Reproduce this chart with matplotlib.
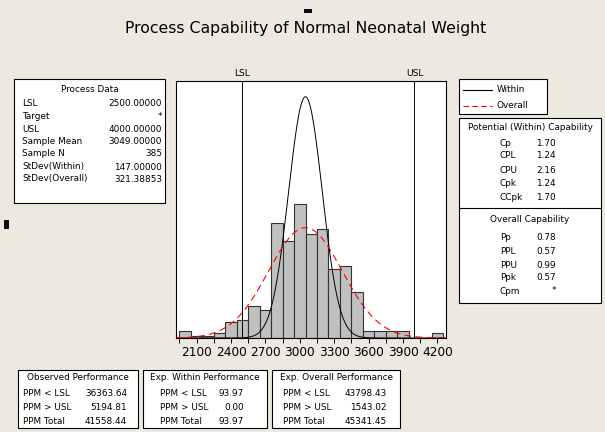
import numpy as np
import matplotlib
matplotlib.use("Agg")
import matplotlib.pyplot as plt
from matplotlib.patches import Rectangle

# -----------------------------
# Data
# -----------------------------
bin_centers = [2000, 2100, 2200, 2300, 2400, 2500, 2600, 2700, 2800, 2900, 3000,
               3100, 3200, 3300, 3400, 3500, 3600, 3700, 3800, 3900, 4000, 4100, 4200]
counts = [3, 1, 1, 2, 7, 8, 14, 12, 50, 42, 58, 45, 47, 30, 31, 20, 3, 3, 3, 3, 0, 0, 2]
bin_width = 100

LSL, USL = 2500.0, 4000.0
mean = 3049.0
n = 385
sd_within = 147.0
sd_overall = 321.38853

xticks = [2100, 2400, 2700, 3000, 3300, 3600, 3900, 4200]
xticks_minor = [1950, 2250, 2550, 2850, 3150, 3450, 3750, 4050]

process_labels = ["LSL", "Target", "USL", "Sample Mean", "Sample N",
                  "StDev(Within)", "StDev(Overall)"]
process_values = ["2500.00000", "*", "4000.00000", "3049.00000", "385",
                  "147.00000", "321.38853"]

within_labels = ["Cp", "CPL", "CPU", "Cpk", "CCpk"]
within_values = ["1.70", "1.24", "2.16", "1.24", "1.70"]
overall_labels = ["Pp", "PPL", "PPU", "Ppk", "Cpm"]
overall_values = ["0.78", "0.57", "0.99", "0.57", "*"]

perf_titles = ["Observed Performance", "Exp. Within Performance", "Exp. Overall Performance"]
perf_labels = ["PPM < LSL", "PPM > USL", "PPM Total"]
perf_values = [["36363.64", "5194.81", "41558.44"],
               ["93.97", "0.00", "93.97"],
               ["43798.43", "1543.02", "45341.45"]]

# -----------------------------
# Figure setup
# -----------------------------
W, H = 605, 432
BG = "#ECE9E0"
plt.rcParams["font.family"] = ["DejaVu Sans"]
fig = plt.figure(figsize=(W / 100, H / 100), dpi=100, facecolor=BG)


def fx(px):
    return px / W


def fy(py):
    return 1 - py / H


def box(x0, y0, x1, y1):
    fig.patches.append(Rectangle((fx(x0), fy(y1)), fx(x1) - fx(x0), fy(y0) - fy(y1),
                                 transform=fig.transFigure, facecolor="white",
                                 edgecolor="black", lw=0.8))


def txt(px, py, s, ha="left", size=6.4):
    fig.text(fx(px), fy(py), s, ha=ha, va="center", fontsize=size)


# title
fig.text(fx(306), fy(28), "Process Capability of Normal Neonatal Weight",
         ha="center", va="center", fontsize=11.3)

# selection handle marks
for (x0, y0, x1, y1) in [(304, 9, 312, 13), (4, 220, 9, 229)]:
    fig.patches.append(Rectangle((fx(x0), fy(y1)), fx(x1) - fx(x0), fy(y0) - fy(y1),
                                 transform=fig.transFigure, facecolor="#0a0f1e", lw=0))

# -----------------------------
# Histogram panel
# -----------------------------
ax = fig.add_axes([fx(176), fy(338), fx(446) - fx(176), fy(81) - fy(338)])
ax.bar(bin_centers, counts, width=bin_width, color="#C0C0C0", edgecolor="#333333", lw=0.8)

xs = np.linspace(1920, 4275, 600)
scale = n * bin_width
y_within = scale * np.exp(-0.5 * ((xs - mean) / sd_within) ** 2) / (sd_within * np.sqrt(2 * np.pi))
y_overall = scale * np.exp(-0.5 * ((xs - mean) / sd_overall) ** 2) / (sd_overall * np.sqrt(2 * np.pi))
ax.plot(xs, y_within, color="black", lw=0.7)
ax.plot(xs, y_overall, color="red", lw=0.8, ls=(0, (6, 4)))

ax.axvline(LSL, color="black", lw=0.7)
ax.axvline(USL, color="black", lw=0.7)
ax.set_xlim(1920, 4275)
ax.set_ylim(0, 111.3)
ax.set_yticks([])
ax.set_xticks(xticks)
ax.set_xticks(xticks_minor, minor=True)
ax.tick_params(axis="x", which="both", labelsize=8.7, length=3.5, width=0.7, pad=2)
for sp in ax.spines.values():
    sp.set_linewidth(0.8)

ax.text(LSL, 1.012, "LSL", transform=ax.get_xaxis_transform(), ha="center", va="bottom", fontsize=6.6)
ax.text(USL, 1.012, "USL", transform=ax.get_xaxis_transform(), ha="center", va="bottom", fontsize=6.6)

# -----------------------------
# Process data box
# -----------------------------
box(14, 79, 165, 203)
txt(90, 90, "Process Data", ha="center")
rows_y = [103, 116, 129, 142, 154, 167, 179]
for lab, val, yy in zip(process_labels, process_values, rows_y):
    txt(22, yy, lab)
    txt(162, yy, val, ha="right")

# -----------------------------
# Legend box
# -----------------------------
box(459, 79, 547, 114)
fig.add_artist(plt.Line2D([fx(463), fx(492)], [fy(90), fy(90)], color="black", lw=0.8,
                          transform=fig.transFigure))
fig.add_artist(plt.Line2D([fx(463), fx(492)], [fy(106), fy(106)], color="red", lw=0.8,
                          ls=(0, (5, 3)), transform=fig.transFigure))
txt(497, 90, "Within")
txt(497, 106, "Overall")

# -----------------------------
# Capability box
# -----------------------------
box(459, 118, 601, 303)
fig.add_artist(plt.Line2D([fx(459), fx(601)], [fy(208), fy(208)], color="black", lw=0.8,
                          transform=fig.transFigure))
txt(530, 128, "Potential (Within) Capability", ha="center")
for lab, val, yy in zip(within_labels, within_values, [143, 156, 170, 183, 197]):
    txt(500, yy, lab)
    txt(556, yy, val, ha="right")
txt(530, 219, "Overall Capability", ha="center")
for lab, val, yy in zip(overall_labels, overall_values, [238, 251, 265, 278, 291]):
    txt(500, yy, lab)
    txt(556, yy, val, ha="right")

# -----------------------------
# Performance boxes
# -----------------------------
perf_boxes = [(18, 138), (143, 267), (272, 400)]
label_x = [23, 160, 283]
value_x = [127, 244, 387]
for i, (x0, x1) in enumerate(perf_boxes):
    box(x0, 370, x1, 428)
    txt((x0 + x1) / 2, 378, perf_titles[i], ha="center")
    for lab, val, yy in zip(perf_labels, perf_values[i], [393, 407, 421]):
        txt(label_x[i], yy, lab)
        txt(value_x[i], yy, val, ha="right")

fig.savefig("out.png", dpi=100, facecolor=BG)
